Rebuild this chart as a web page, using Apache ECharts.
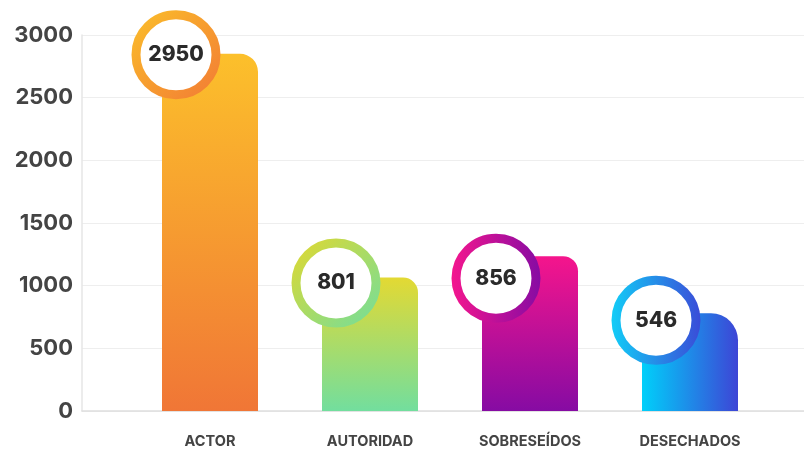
<!DOCTYPE html>
<html><head><meta charset="utf-8">
<script src="https://cdn.jsdelivr.net/npm/echarts@6/dist/echarts.min.js"></script>
<style>html,body{margin:0;padding:0;background:#fff}#c{width:804px;height:451px}</style>
</head><body><div id="c"></div>
<script>
const categories = ['ACTOR', 'AUTORIDAD', 'SOBRESEÍDOS', 'DESECHADOS'];
const barValues = [2850, 1065, 1235, 780];
const labelValues = [2950, 801, 856, 546];
const yMin = 0, yMax = 3000, yStep = 500;

const G = echarts.graphic.LinearGradient;
const barFills = [
  new G(0, 0, 0, 1, [{offset: 0, color: '#FCC02B'}, {offset: 1, color: '#F07636'}]),
  new G(0, 0, 0, 1, [{offset: 0, color: '#E3D933'}, {offset: 1, color: '#72DE9E'}]),
  new G(0, 0, 0, 1, [{offset: 0, color: '#F5158C'}, {offset: 1, color: '#860BA3'}]),
  new G(0, 0, 1, 0, [{offset: 0, color: '#00D0FA'}, {offset: 1, color: '#3D45D6'}])
];
const ringColors = [
  new G(0, 0, 1, 1, [{offset: 0, color: '#FBBF2A'}, {offset: 1, color: '#F27A35'}]),
  new G(0, 0, 1, 1, [{offset: 0, color: '#E2D82E'}, {offset: 1, color: '#70DE9E'}]),
  new G(0, 0, 1, 0, [{offset: 0, color: '#F4168E'}, {offset: 1, color: '#860BA3'}]),
  new G(0, 0, 1, 0, [{offset: 0, color: '#12CDF7'}, {offset: 1, color: '#3A4CD8'}])
];
const radii = [18, 15, 15, 27];
const badgeDy = [1, 5.5, 22, 7];

const chart = echarts.init(document.getElementById('c'), null, {renderer: 'canvas'});
chart.setOption({
  animation: false,
  backgroundColor: '#fff',
  grid: [
    {left: 82, right: 0, top: 35, bottom: 40},
    {left: 130, right: 34, top: 35, bottom: 40}
  ],
  xAxis: [
    {gridIndex: 0, type: 'value', min: 0, max: 1,
     axisLine: {show: true, lineStyle: {color: '#dedede', width: 1.5}},
     axisTick: {show: false}, axisLabel: {show: false}, splitLine: {show: false}},
    {gridIndex: 1, type: 'category', data: categories,
     axisLine: {show: false}, axisTick: {show: false}, splitLine: {show: false},
     axisLabel: {margin: 23, color: '#444', fontFamily: 'Inter', fontWeight: 700, fontSize: 14.5}}
  ],
  yAxis: [
    {gridIndex: 0, type: 'value', min: yMin, max: yMax, interval: yStep,
     axisLine: {show: true, lineStyle: {color: '#e6e6e6', width: 1.5}},
     axisTick: {show: false},
     splitLine: {show: true, lineStyle: {color: '#eeeeee', width: 1.2}},
     axisLabel: {margin: 9, color: '#444', fontFamily: 'Inter', fontWeight: 700, fontSize: 22,
       formatter: v => String(v)}},
    {gridIndex: 1, type: 'value', min: yMin, max: yMax, interval: yStep, show: false,
     splitLine: {show: false}}
  ],
  series: [
    {type: 'bar', xAxisIndex: 1, yAxisIndex: 1, barWidth: 96, z: 2,
     data: barValues.map((v, i) => ({value: v, itemStyle: {color: barFills[i], borderRadius: [radii[i], radii[i], 0, 0]}}))},
    {type: 'scatter', xAxisIndex: 1, yAxisIndex: 1, z: 5, symbol: 'circle', symbolSize: 80,
     data: barValues.map((v, i) => ({
       value: [categories[i], v],
       symbolOffset: [-34, badgeDy[i]],
       itemStyle: {color: '#ffffff', borderColor: ringColors[i], borderWidth: 9, opacity: 1}
     })),
     label: {show: true, position: 'inside', color: '#2a2a2a', fontFamily: 'Inter', fontWeight: 800, fontSize: 21,
       formatter: p => String(labelValues[p.dataIndex])}}
  ]
});
</script></body></html>
